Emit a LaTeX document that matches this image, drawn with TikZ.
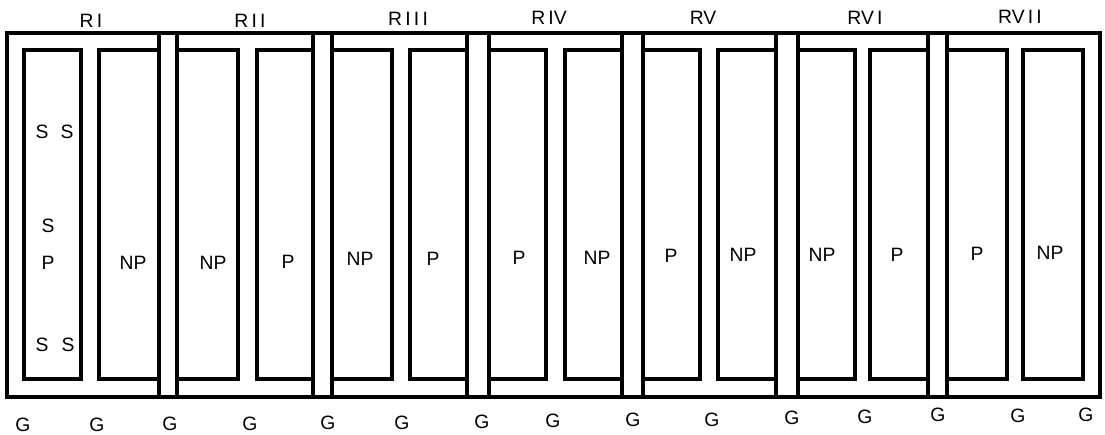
\documentclass[tikz,border=0pt]{standalone}
\usepackage{fontspec}
\setmainfont{Liberation Sans}
\begin{document}
\begin{tikzpicture}[x=0.02cm, y=-0.02cm, line width=1.9pt,
  lbl/.style={inner sep=0pt, font=\fontsize{11}{13}\selectfont}]
  \useasboundingbox (0,0) rectangle (1105,435);
  % outer boundary
  \draw (7,33) rectangle (1100,397);
  % strips between the replicates
  \foreach \a/\b in {159/177, 313/332, 467/489, 622/643, 776/798, 928/947}
    \draw (\a,33)--(\a,397) (\b,33)--(\b,397);
  % plots
  \foreach \a/\b in {24/81, 99/159, 177/238, 257/313, 332/392, 410/467, 489/546,
                     565/622, 643/700, 718/776, 798/855, 870/928, 947/1007, 1023/1083}
    \draw (\a,50) rectangle (\b,379);
  % replicate names
  \node[lbl] (r1) at (91,21)   {R\,I};
  \node[lbl] (r2) at (250,21)  {R\,I\,I};
  \node[lbl] (r3) at (408,19)  {R\,I\,I\,I};
  \node[lbl] (r4) at (549,18)  {R\,IV};
  \node[lbl] (r5) at (703,18)  {RV};
  \node[lbl] (r6) at (865,18)  {RV\,I};
  \node[lbl] (r7) at (1020,17) {RV\,I\,I};
  % first plot
  \node[lbl] (s1) at (42,132)  {S};
  \node[lbl] (s2) at (67,132)  {S};
  \node[lbl] (s3) at (48,226)  {S};
  \node[lbl] (p1) at (48,263)  {P};
  \node[lbl] (s4) at (42,345)  {S};
  \node[lbl] (s5) at (68,345)  {S};
  % treatments
  \node[lbl] (t2)  at (133,263) {NP};
  \node[lbl] (t3)  at (213,263) {NP};
  \node[lbl] (t4)  at (288,262) {P};
  \node[lbl] (t5)  at (360,259) {NP};
  \node[lbl] (t6)  at (433,259) {P};
  \node[lbl] (t7)  at (519,258) {P};
  \node[lbl] (t8)  at (597,258) {NP};
  \node[lbl] (t9)  at (671,256) {P};
  \node[lbl] (t10) at (743,255) {NP};
  \node[lbl] (t11) at (822,255) {NP};
  \node[lbl] (t12) at (897,255) {P};
  \node[lbl] (t13) at (977,254) {P};
  \node[lbl] (t14) at (1050,253) {NP};
  % G marks under the field
  \foreach \x/\y [count=\i] in {23/425, 97/425, 170/424, 250/424, 328/423, 402/423,
                                482/422, 553/421, 633/420, 712/420, 792/418, 865/417,
                                938/415, 1018/416, 1086/415}
    \node[lbl] (g\i) at (\x,\y) {G};
\end{tikzpicture}
\end{document}
